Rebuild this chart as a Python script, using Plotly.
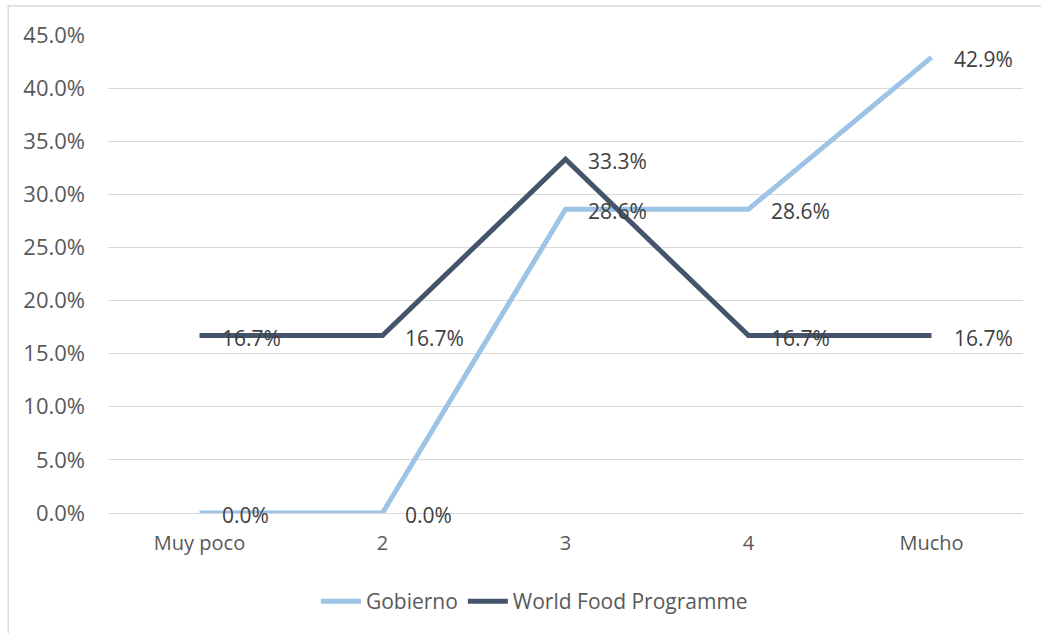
import plotly.graph_objects as go

categories = ["Muy poco", "2", "3", "4", "Mucho"]
gobierno = [0.0, 0.0, 28.6, 28.6, 42.9]
wfp = [16.7, 16.7, 33.3, 16.7, 16.7]
y_ticks = [0, 5, 10, 15, 20, 25, 30, 35, 40, 45]
y_tick_text = [f"{v:.1f}%" for v in y_ticks]

FONT = "Open Sans"
LABEL = "#404040"
AXIS = "#595959"
SIZE = 20

fig = go.Figure()
fig.add_trace(go.Scatter(
    x=categories, y=gobierno, mode="lines", name="Gobierno",
    line=dict(color="#9DC3E6", width=5),
))
fig.add_trace(go.Scatter(
    x=categories, y=wfp, mode="lines", name="World Food Programme",
    line=dict(color="#44546A", width=5),
))

# value labels to the right of each point (x given as category index)
annotations = []
for series in (gobierno, wfp):
    for i, val in enumerate(series):
        annotations.append(dict(
            x=i, y=val, xref="x", yref="y", text=f"{val:.1f}%",
            showarrow=False, xanchor="left", yanchor="middle",
            xshift=20, yshift=-2,
            font=dict(family=FONT, size=21, color=LABEL),
        ))

fig.update_layout(
    width=1041, height=633,
    margin=dict(l=108, r=18, t=35, b=119),
    paper_bgcolor="white", plot_bgcolor="white",
    font=dict(family=FONT, size=SIZE, color=AXIS),
    showlegend=True,
    legend=dict(orientation="h", x=0.466, xanchor="center", y=-0.14,
                yanchor="top", font=dict(family=FONT, size=21, color=AXIS),
                itemwidth=40, tracegroupgap=0),
    annotations=annotations,
    shapes=[dict(type="rect", xref="paper", yref="paper",
                 x0=-0.109, x1=1.05, y0=-0.3, y1=1.0605,
                 line=dict(color="#D9D9D9", width=1.5))],
)
fig.update_xaxes(
    type="category", range=[-0.5, 4.5], showgrid=False, showline=False,
    zeroline=False, ticks="", ticklabelstandoff=16,
    tickfont=dict(family=FONT, size=SIZE, color=AXIS),
)
fig.update_yaxes(
    range=[0, 45], tickvals=y_ticks, ticktext=y_tick_text,
    showgrid=True, gridcolor="#D9D9D9", gridwidth=1.3,
    zeroline=True, zerolinecolor="#D9D9D9", zerolinewidth=1.3,
    showline=False, ticks="", ticklabelstandoff=22, automargin=False,
    tickfont=dict(family=FONT, size=22, color=AXIS),
)

fig.write_html("out.html")
